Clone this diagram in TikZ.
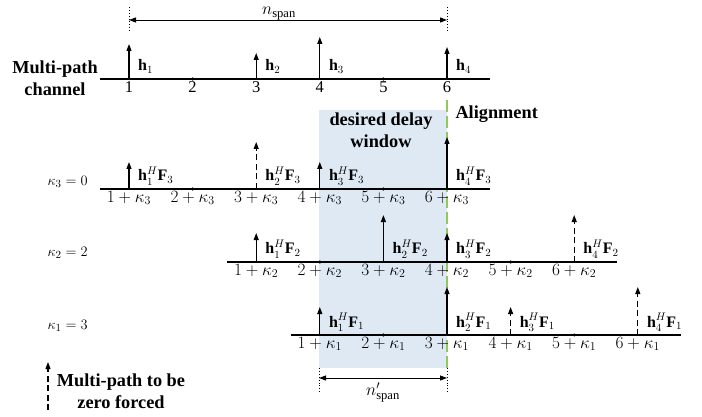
\documentclass[tikz,border=0pt]{standalone}
\usepackage{fontspec}
\usepackage{amsmath}
\setmainfont{Liberation Serif}
\usetikzlibrary{arrows.meta,calc}

\definecolor{winblue}{RGB}{222,233,244}
\definecolor{aligngreen}{RGB}{146,200,96}

\tikzset{
  axis/.style={line width=1.1pt},
  tap/.style={line width=1.1pt,-{Triangle[length=7pt,width=5pt]}},
  zf/.style={tap,dash pattern=on 6pt off 3.5pt},
  guide/.style={line width=0.9pt,dotted},
  span/.style={line width=0.9pt,{Triangle[length=7pt,width=5pt]}-{Triangle[length=7pt,width=5pt]}},
  tick/.style={inner sep=1pt,below=1pt,font=\fontsize{16.5}{19}\selectfont},
  lab/.style={inner sep=0pt,anchor=base west,font=\fontsize{16}{18}\selectfont},
  bold/.style={font=\bfseries\fontsize{18.3}{22}\selectfont,align=center},
}

\begin{document}
\begin{tikzpicture}[x=1pt,y=-1pt,font=\fontsize{15.5}{18}\selectfont]
\useasboundingbox (0,0) rectangle (702,417);

% desired delay window and alignment
\fill[winblue] (319,110) rectangle (447,368);
\draw[aligngreen,line width=1.8pt,dash pattern=on 12pt off 4pt] (447,100) -- (447,368);
\node[bold] (win) at (381,130) {desired delay\\window};
\node[bold,anchor=west] (align) at (452,114) {Alignment};

% axes
\foreach \row/\y/\off in {a/79/0,c/189/0,b/262/2,d/335/3}{
  \foreach \i in {1,...,6}
    \coordinate (\row\i) at ({129+63.6*(\i+\off-1)},\y);
  \coordinate (\row L) at ($(\row1)+(-29,0)$);
  \coordinate (\row R) at ($(\row6)+(43,0)$);
  \draw[axis] (\row L) -- (\row R);
  \foreach \i in {2,5}
    \fill (\row\i) circle (1.7);
}

% tick labels
\foreach \i in {1,...,6}
  \node[tick] (al\i) at (a\i) {\i};
\foreach \row/\s in {c/3,b/2,d/1}
  \foreach \i in {1,...,6}
    \node[tick] (\row l\i) at (\row\i) {$\i+\kappa_{\s}$};

% taps
\foreach \row/\i/\h/\st/\txt in {
  a/1/35/tap/{$\mathbf{h}_1$}, a/3/26/tap/{$\mathbf{h}_2$},
  a/4/42/tap/{$\mathbf{h}_3$}, a/6/32/tap/{$\mathbf{h}_4$},
  c/1/27/tap/{$\mathbf{h}_1^H\mathbf{F}_3$}, c/3/47/zf/{$\mathbf{h}_2^H\mathbf{F}_3$},
  c/4/27/tap/{$\mathbf{h}_3^H\mathbf{F}_3$}, c/6/52/tap/{$\mathbf{h}_4^H\mathbf{F}_3$},
  b/1/29/tap/{$\mathbf{h}_1^H\mathbf{F}_2$}, b/3/47/tap/{$\mathbf{h}_2^H\mathbf{F}_2$},
  b/4/29/tap/{$\mathbf{h}_3^H\mathbf{F}_2$}, b/6/47/zf/{$\mathbf{h}_4^H\mathbf{F}_2$},
  d/1/28/tap/{$\mathbf{h}_1^H\mathbf{F}_1$}, d/3/48/tap/{$\mathbf{h}_2^H\mathbf{F}_1$},
  d/4/28/zf/{$\mathbf{h}_3^H\mathbf{F}_1$}, d/6/48/zf/{$\mathbf{h}_4^H\mathbf{F}_1$}}{
  \coordinate (\row t\i) at ($(\row\i)+(0,-\h)$);
  \draw[\st] (\row\i) -- (\row t\i);
  \node[lab] (\row h\i) at ($(\row\i)+(9,-8)$) {\txt};
}

% row labels
\node[bold] (chan) at (55,78) {Multi-path\\channel};
\node[anchor=west] (k3) at (44,182) {$\kappa_3=0$};
\node[anchor=west] (k2) at (44,253) {$\kappa_2=2$};
\node[anchor=west] (k1) at (44,326) {$\kappa_1=3$};

% spans
\coordinate (nL) at (129,20);
\coordinate (nR) at (447,20);
\draw[guide] ($(nL)+(0,-13)$) -- ($(nL)+(0,13)$);
\draw[guide] ($(nR)+(0,-13)$) -- ($(nR)+(0,13)$);
\draw[span] (nL) -- (nR);
\node[anchor=base,inner sep=0pt,font=\fontsize{18}{20}\selectfont] (nspan) at (279,15) {$n_{\mathrm{span}}$};
\coordinate (mL) at (319,378);
\coordinate (mR) at (447,378);
\draw[guide] ($(mL)+(0,-10)$) -- ($(mL)+(0,14)$);
\draw[guide] ($(mR)+(0,-10)$) -- ($(mR)+(0,14)$);
\draw[span] (mL) -- node[below=1pt,font=\fontsize{18}{20}\selectfont] (mspan) {$n'_{\mathrm{span}}$} (mR);

% legend
\coordinate (zb) at (48,410);
\coordinate (zt) at (48,362);
\draw[zf] (zb) -- (zt);
\node[bold] (zlab) at (121,391) {Multi-path to be\\zero forced};
\end{tikzpicture}
\end{document}
